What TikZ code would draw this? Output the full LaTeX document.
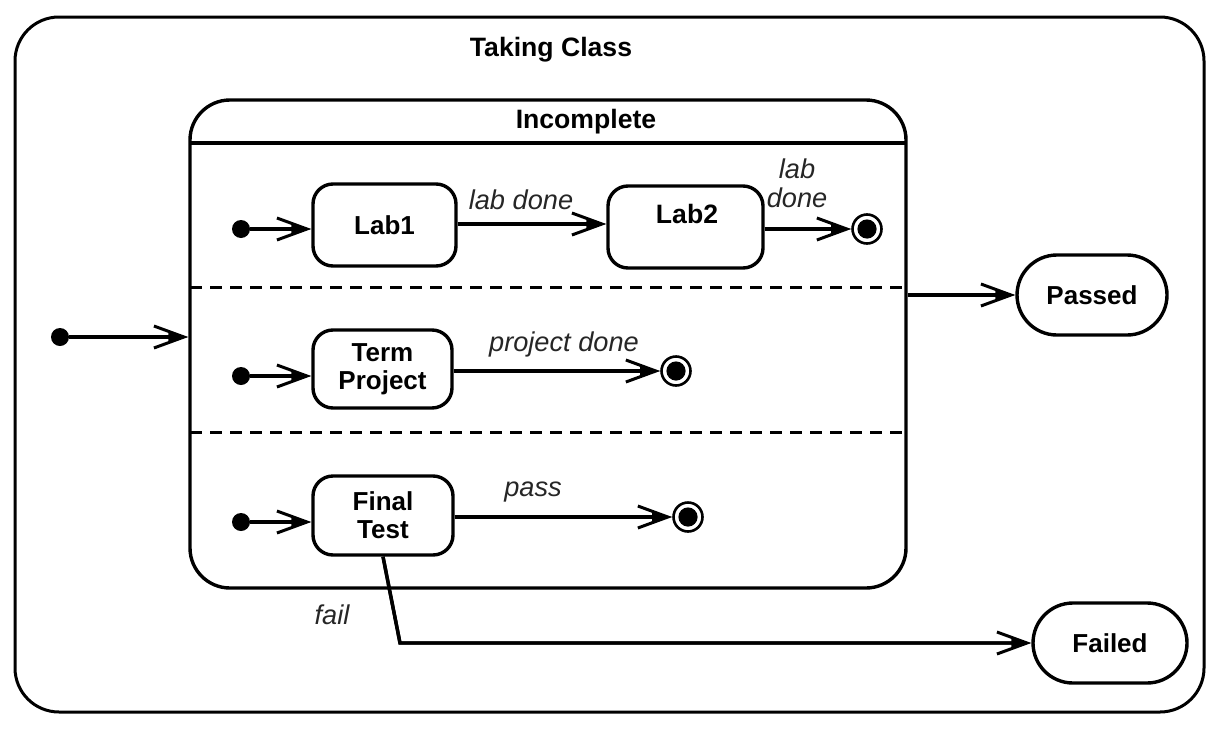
\documentclass[tikz,border=0pt]{standalone}
\usepackage{fontspec}
\setmainfont{Liberation Sans}
\usetikzlibrary{arrows.meta,shapes.misc}
\begin{document}
\begin{tikzpicture}[x=0.5pt,y=-0.5pt,
  statebox/.style={draw,line width=1.7pt,rounded corners=10pt,inner sep=0pt,font=\bfseries\fontsize{13}{14}\selectfont,align=center},
  stadium/.style={draw,line width=1.7pt,rounded rectangle,inner sep=0pt,minimum width=75pt,minimum height=40pt,font=\bfseries\fontsize{13}{14}\selectfont},
  initdot/.style={circle,fill=black,inner sep=0pt,minimum size=9pt},
  finalst/.style={circle,draw,line width=1.3pt,inner sep=0pt,minimum size=14.5pt,
    path picture={\fill (path picture bounding box.center) circle (4.8pt);}},
  conn/.style={line width=1.7pt,-{Straight Barb[length=15pt,width=11pt,line width=1.5pt]},
    postaction={draw,line width=1.7pt,-{Triangle[length=10pt,width=5pt]}}},
  lbl/.style={font=\itshape\fontsize{13.6}{14.5}\selectfont,text=black!85,align=center,inner sep=0pt},
  ttl/.style={font=\bfseries\fontsize{13.3}{14}\selectfont,inner sep=0pt}]
\useasboundingbox (0,0) rectangle (1220,728);
% outer composite state
\node[draw,line width=1.5pt,rounded corners=22pt,minimum width=594.5pt,minimum height=347.5pt,inner sep=0pt] (tc) at (609.5,364.5) {};
\node[ttl] (tctitle) at (551,50) {Taking Class};
% Incomplete composite
\node[draw,line width=1.7pt,rounded corners=20pt,minimum width=358pt,minimum height=244pt,inner sep=0pt] (inc) at (548,344) {};
\node[ttl] (inctitle) at (586,122) {Incomplete};
\coordinate (sepL) at (190,143); \coordinate (sepR) at (906,143);
\draw[line width=1.7pt] (sepL) -- (sepR);
\coordinate (d1L) at (190,287); \coordinate (d1R) at (906,287);
\coordinate (d2L) at (190,432); \coordinate (d2R) at (906,432);
\draw[line width=1.5pt,dash pattern=on 6pt off 4pt] (d1L) -- (d1R);
\draw[line width=1.5pt,dash pattern=on 6pt off 4pt] (d2L) -- (d2R);
% region 1
\node[initdot] (i1) at (241,229) {};
\node[statebox,minimum width=71.5pt,minimum height=41pt] (lab1) at (384.5,225) {Lab1};
\node[statebox,minimum width=77.5pt,minimum height=41pt] (lab2) at (685.5,227) {};
\node[ttl] (lab2t) at (687,214) {Lab2};
\node[finalst] (f1) at (867,229) {};
\draw[conn] (i1) -- (i1 -| lab1.west);
\draw[conn] (lab1.east |- 0,224) -- (lab2.west |- 0,224);
\draw[conn] (lab2.east |- f1) -- (f1);
\node[lbl] (l1) at (521,200) {lab done};
\node[lbl] (l2) at (797,183) {lab\\done};
% region 2
\node[initdot] (i2) at (241,376) {};
\node[statebox,minimum width=69.5pt,minimum height=39pt] (tp) at (382.5,369) {Term\\Project};
\node[finalst] (f2) at (676,371) {};
\draw[conn] (i2) -- (i2 -| tp.west);
\draw[conn] (tp.east |- f2) -- (f2);
\node[lbl] (l3) at (564,344) {project done};
% region 3
\node[initdot] (i3) at (241,522) {};
\node[statebox,minimum width=70pt,minimum height=39.5pt] (ft) at (383,515.5) {Final\\Test};
\node[finalst] (f3) at (688,517) {};
\draw[conn] (i3) -- (i3 -| ft.west);
\draw[conn] (ft.east |- f3) -- (f3);
\node[lbl] (l4) at (533,492) {pass};
% outer transitions
\node[initdot] (i0) at (60,337) {};
\draw[conn] (i0) -- (i0 -| inc.west);
\node[stadium] (passed) at (1092,295) {Passed};
\draw[conn] (inc.east |- passed) -- (passed.west);
\node[stadium,minimum width=77pt] (failed) at (1110,643) {Failed};
\coordinate (bend) at (400,643);
\draw[conn] (ft.south) -- (bend) -- (failed.west);
\node[lbl] (l5) at (332,615) {fail};
\end{tikzpicture}
\end{document}
